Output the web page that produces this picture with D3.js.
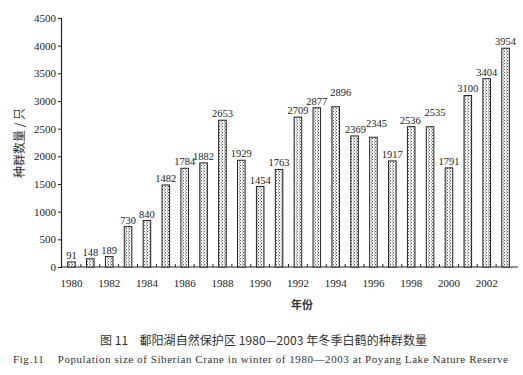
<!DOCTYPE html>
<html>
<head>
<meta charset="utf-8">
<script src="https://cdn.jsdelivr.net/npm/d3@7"></script>
<style>
  body { margin: 0; background: #fff; }
  svg { display: block; }
  text { white-space: pre; }
</style>
</head>
<body>
<div id="container"></div>
<script>
/* DATA */
const years = d3.range(1980, 2004)
const counts = [91, 148, 189, 730, 840, 1482, 1784, 1882, 2653, 1929, 1454, 1763,
  2709, 2877, 2896, 2369, 2345, 1917, 2536, 2535, 1791, 3100, 3404, 3954]
const yTicks = [0, 500, 1000, 1500, 2000, 2500, 3000, 3500, 4000, 4500]
const xTickYears = [1980, 1982, 1984, 1986, 1988, 1990, 1992, 1994, 1996, 1998, 2000, 2002]

const yLabel = "种群数量 / 只"
const xLabel = "年份"
const captionCn = "图 11    鄱阳湖自然保护区 1980—2003 年冬季白鹤的种群数量"
const captionEn = "Fig.11    Population size of Siberian Crane in winter of 1980—2003 at Poyang Lake Nature Reserve"

/* CONSTANTS */
const width = 523,
  height = 375
const serif = "'Liberation Serif', 'DejaVu Serif', serif"
const cjk = "'Noto Sans CJK SC', sans-serif"

const svg = d3.select("#container")
  .append("svg")
  .attr("width", width)
  .attr("height", height)
  .style("background", "#fff")

// dotted fill of the bars
const pat = svg.append("defs").append("pattern")
  .attr("id", "dots")
  .attr("patternUnits", "userSpaceOnUse")
  .attr("width", 3)
  .attr("height", 3)
pat.append("rect").attr("width", 3).attr("height", 3).attr("fill", "#f4f4f4")
pat.append("rect").attr("x", 0).attr("y", 0).attr("width", 1).attr("height", 1).attr("fill", "#555")
pat.append("rect").attr("x", 2).attr("y", 1.5).attr("width", 1).attr("height", 1).attr("fill", "#777")

const x = d3.scaleBand()
  .domain(years)
  .range([62, 515])
  .paddingInner(0.6)
  .paddingOuter(0.3)

const y = d3.scaleLinear()
  .domain([0, 4500])
  .range([267, 18])

// Y AXIS
const yAxis = svg.append("g")
  .attr("transform", "translate(61,0)")
  .call(d3.axisLeft(y).tickValues(yTicks).tickFormat(d3.format("d")).tickSize(3).tickPadding(2))
yAxis.select(".domain").attr("stroke", "#222").attr("stroke-width", 1.2)
yAxis.selectAll(".tick line").attr("stroke", "#222")
yAxis.selectAll("text")
  .attr("font-family", serif)
  .attr("font-size", 11)
  .attr("fill", "#222")

// X AXIS LINE
svg.append("line")
  .attr("x1", 61).attr("x2", 518)
  .attr("y1", y(0)).attr("y2", y(0))
  .attr("stroke", "#222")
  .attr("stroke-width", 1.2)

svg.selectAll(".xtick")
  .data(years.slice(0, -1))
  .join("line")
  .attr("class", "xtick")
  .attr("x1", d => x(d) + x.bandwidth() / 2 + x.step() / 2)
  .attr("x2", d => x(d) + x.bandwidth() / 2 + x.step() / 2)
  .attr("y1", y(0))
  .attr("y2", y(0) - 3)
  .attr("stroke", "#222")

svg.selectAll(".xlabel")
  .data(xTickYears)
  .join("text")
  .attr("class", "xlabel")
  .attr("x", d => x(d) + x.bandwidth() / 2)
  .attr("y", 287)
  .attr("text-anchor", "middle")
  .attr("font-family", serif)
  .attr("font-size", 11)
  .attr("fill", "#222")
  .text(d => d)

// BARS
const rows = years.map((yr, i) => ({ year: yr, value: counts[i] }))

svg.selectAll(".bar")
  .data(rows)
  .join("rect")
  .attr("class", "bar")
  .attr("x", d => x(d.year))
  .attr("y", d => y(d.value))
  .attr("width", x.bandwidth())
  .attr("height", d => y(0) - y(d.value))
  .attr("fill", "url(#dots)")
  .attr("stroke", "#222")
  .attr("stroke-width", 1)

// value labels (a few nudged so they don't collide, like the print)
const nudge = { 1994: [5, -8], 1995: [1, 0], 1996: [3, -7], 1998: [-1, 0], 1999: [5, -8] }
svg.selectAll(".val")
  .data(rows)
  .join("text")
  .attr("class", "val")
  .attr("x", d => x(d.year) + x.bandwidth() / 2 + (nudge[d.year] ? nudge[d.year][0] : 0))
  .attr("y", d => y(d.value) - 3 + (nudge[d.year] ? nudge[d.year][1] : 0))
  .attr("text-anchor", "middle")
  .attr("font-family", serif)
  .attr("font-size", 10.5)
  .attr("fill", "#222")
  .text(d => d.value)

// AXIS TITLES
svg.append("text")
  .attr("transform", "translate(24,143) rotate(-90)")
  .attr("text-anchor", "middle")
  .attr("font-family", cjk)
  .attr("font-size", 12)
  .attr("fill", "#333")
  .text(yLabel)

svg.append("text")
  .attr("x", 302)
  .attr("y", 309)
  .attr("text-anchor", "middle")
  .attr("font-family", cjk)
  .attr("font-size", 11)
  .attr("font-weight", "bold")
  .attr("fill", "#333")
  .text(xLabel)

// CAPTIONS
svg.append("text")
  .attr("x", 100)
  .attr("y", 345)
  .attr("textLength", 327)
  .attr("lengthAdjust", "spacing")
  .attr("font-family", cjk)
  .attr("font-size", 12)
  .attr("fill", "#333")
  .text(captionCn)

svg.append("text")
  .attr("x", 13)
  .attr("y", 363)
  .attr("textLength", 495)
  .attr("lengthAdjust", "spacing")
  .attr("font-family", serif)
  .attr("font-size", 11)
  .attr("fill", "#333")
  .text(captionEn)
</script>
</body>
</html>
